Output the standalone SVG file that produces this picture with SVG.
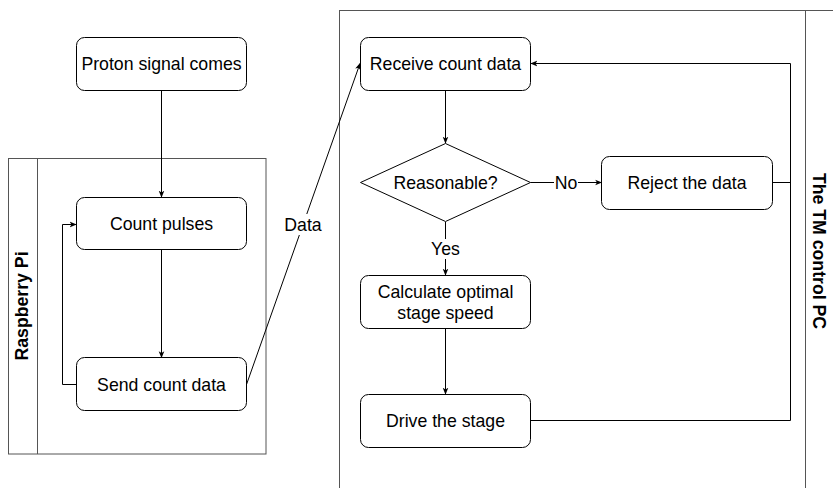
<svg xmlns="http://www.w3.org/2000/svg" width="833" height="488" viewBox="0 0 833 488">
<style>
.box{fill:#fff;stroke:#000;stroke-width:1}
.pool{fill:none;stroke:#555;stroke-width:1}
.t{font-family:"Liberation Sans",Arial,sans-serif;font-size:17.7px;fill:#000;text-anchor:middle;dominant-baseline:central}
.b{font-weight:bold}
.e{fill:none;stroke:#000;stroke-width:1}
.lbg{fill:#fff}
</style>
<defs>
<marker id="ah" viewBox="0 0 10 10" refX="9" refY="5" markerWidth="7" markerHeight="7" markerUnits="userSpaceOnUse" orient="auto">
<path d="M0,1 L10,5 L0,9 L2.5,5 Z" fill="#000"/>
</marker>
</defs>
<rect width="833" height="488" fill="#fff"/>
<g id="pool-pi">
<rect class="pool" x="8.5" y="158.5" width="257.5" height="295.5"/>
<line class="pool" x1="37.5" y1="158.5" x2="37.5" y2="454"/>
<text class="t b" transform="translate(22,306) rotate(-90)">Raspberry Pi</text>
</g>
<g id="pool-pc">
<rect class="pool" x="339.5" y="10.5" width="500" height="490"/>
<line class="pool" x1="805.5" y1="10.5" x2="805.5" y2="500"/>
<text class="t b" transform="translate(819,251) rotate(90)">The TM control PC</text>
</g>
<g id="connectors">
<path class="e" d="M161.5,90.5 V197" marker-end="url(#ah)"/>
<path class="e" d="M161.5,249.5 V357.5" marker-end="url(#ah)"/>
<path class="e" d="M76.5,384.5 H62.5 V224.5 H76" marker-end="url(#ah)"/>
<path class="e" d="M246.5,384.5 L360,63.5" marker-end="url(#ah)"/>
<rect class="lbg" x="284" y="214" width="38" height="21"/>
<text class="t" x="303" y="225">Data</text>
<path class="e" d="M445.5,90.5 V143" marker-end="url(#ah)"/>
<path class="e" d="M530.5,182.5 H601.5" marker-end="url(#ah)"/>
<rect class="lbg" x="554" y="173" width="24" height="19"/>
<text class="t" x="566" y="183">No</text>
<path class="e" d="M445.5,222 V275" marker-end="url(#ah)"/>
<rect class="lbg" x="429" y="239" width="33" height="20"/>
<text class="t" x="445.5" y="249">Yes</text>
<path class="e" d="M445.5,328.5 V394" marker-end="url(#ah)"/>
<path class="e" d="M530.5,420.5 H790.5 V63.5 H531" marker-end="url(#ah)"/>
<path class="e" d="M772.5,182.5 H790.5"/>
</g>
<g id="proton">
<rect class="box" x="76.5" y="37.5" width="170" height="53" rx="8"/>
<text class="t" x="161.5" y="64">Proton signal comes</text>
</g>
<g id="count">
<rect class="box" x="76.5" y="197.5" width="170" height="52" rx="8"/>
<text class="t" x="161.5" y="224">Count pulses</text>
</g>
<g id="send">
<rect class="box" x="76.5" y="357.5" width="170" height="53" rx="8"/>
<text class="t" x="161.5" y="384.5">Send count data</text>
</g>
<g id="receive">
<rect class="box" x="360.5" y="37.5" width="170" height="53" rx="8"/>
<text class="t" x="445.5" y="64">Receive count data</text>
</g>
<g id="reasonable">
<polygon class="box" points="360.5,182.5 445.5,143.5 530.5,182.5 445.5,221.5"/>
<text class="t" x="445.5" y="183">Reasonable?</text>
</g>
<g id="reject">
<rect class="box" x="601.5" y="156.5" width="171" height="53" rx="8"/>
<text class="t" x="687" y="183">Reject the data</text>
</g>
<g id="calculate">
<rect class="box" x="360.5" y="275.5" width="170" height="53" rx="8"/>
<text class="t" x="445.5" y="292">Calculate optimal</text>
<text class="t" x="445.5" y="313">stage speed</text>
</g>
<g id="drive">
<rect class="box" x="360.5" y="394.5" width="170" height="53" rx="8"/>
<text class="t" x="445.5" y="421">Drive the stage</text>
</g>
</svg>
